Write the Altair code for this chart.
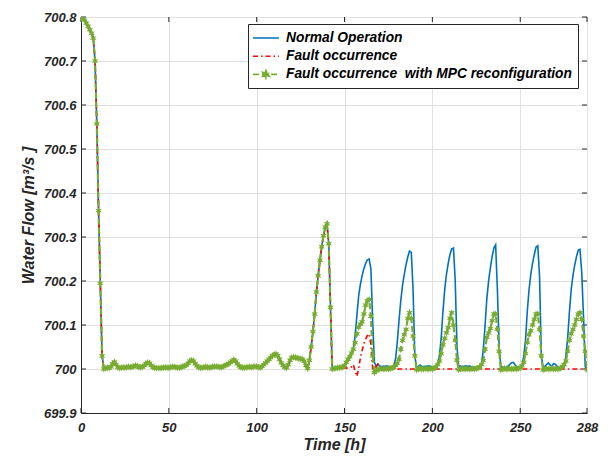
import math
import altair as alt
import pandas as pd

hours = list(range(289))
names = ["Normal Operation", "Fault occurrence", "Fault occurrence  with MPC reconfiguration"]
colors = ["#0072BD", "#FF0000", "#77AC30"]
x_ticks = [0, 50, 100, 150, 200, 250, 288]
y_ticks = [699.9, 700.0, 700.1, 700.2, 700.3, 700.4, 700.5, 700.6, 700.7, 700.8]

# hours 0..148: the three series coincide
common = [
    700.795, 700.800, 700.793, 700.786, 700.779, 700.771, 700.763, 700.752, 700.700, 700.557,
    700.360, 700.195, 700.030, 700.000, 700.002, 700.003, 700.002, 700.005, 700.012, 700.016,
    700.010, 700.004, 700.002, 700.003, 700.004, 700.003, 700.004, 700.005, 700.004, 700.005,
    700.006, 700.008, 700.007, 700.004, 700.004, 700.005, 700.008, 700.012, 700.015, 700.013,
    700.008, 700.004, 700.003, 700.002, 700.002, 700.002, 700.003, 700.003, 700.004, 700.003,
    700.003, 700.004, 700.005, 700.005, 700.004, 700.003, 700.003, 700.004, 700.006, 700.007,
    700.009, 700.013, 700.018, 700.020, 700.018, 700.012, 700.007, 700.004, 700.003, 700.003,
    700.004, 700.005, 700.004, 700.003, 700.004, 700.005, 700.006, 700.006, 700.005, 700.004,
    700.004, 700.006, 700.008, 700.010, 700.012, 700.015, 700.018, 700.021, 700.018, 700.012,
    700.007, 700.004, 700.003, 700.003, 700.004, 700.004, 700.005, 700.004, 700.005, 700.006,
    700.006, 700.004, 700.003, 700.006, 700.010, 700.014, 700.018, 700.022, 700.026, 700.030,
    700.033, 700.034, 700.030, 700.022, 700.014, 700.008, 700.004, 700.003, 700.010, 700.020,
    700.026, 700.027, 700.026, 700.025, 700.024, 700.023, 700.022, 700.018, 700.008, 700.001,
    700.020, 700.050, 700.085, 700.125, 700.175, 700.212, 700.247, 700.278, 700.303, 700.322,
    700.330, 700.285, 700.140, 700.000, 700.001, 700.002, 700.003, 700.003, 700.004,
]

# hours 149..288
normal_tail = [
    700.005, 700.008, 700.014, 700.020, 700.027, 700.035, 700.048, 700.075, 700.120, 700.165,
    700.192, 700.212, 700.228, 700.240, 700.248, 700.250, 700.228, 700.110, 700.015, 700.006,
    700.011, 700.007, 700.005, 700.006, 700.006, 700.007, 700.006, 700.005, 700.005, 700.008,
    700.022, 700.060, 700.110, 700.155, 700.190, 700.215, 700.237, 700.255, 700.268, 700.265,
    700.180, 700.030, 700.004, 700.006, 700.009, 700.006, 700.005, 700.006, 700.006, 700.007,
    700.006, 700.005, 700.004, 700.005, 700.010, 700.030, 700.070, 700.130, 700.180, 700.215,
    700.240, 700.260, 700.273, 700.275, 700.200, 700.050, 700.004, 700.007, 700.005, 700.006,
    700.007, 700.006, 700.007, 700.005, 700.004, 700.004, 700.004, 700.004, 700.006, 700.012,
    700.045, 700.100, 700.160, 700.200, 700.230, 700.255, 700.275, 700.282, 700.180, 700.050,
    700.003, 700.005, 700.003, 700.004, 700.006, 700.010, 700.014, 700.015, 700.010, 700.005,
    700.003, 700.003, 700.005, 700.030, 700.065, 700.130, 700.180, 700.215, 700.240, 700.260,
    700.277, 700.280, 700.210, 700.030, 700.003, 700.006, 700.010, 700.014, 700.009, 700.007,
    700.012, 700.011, 700.006, 700.004, 700.003, 700.004, 700.006, 700.030, 700.070, 700.130,
    700.180, 700.212, 700.236, 700.255, 700.270, 700.272, 700.220, 700.120, 700.005, 700.000,
]

fault_tail = [
    700.003, 700.002, 700.002, 700.003, 700.003, 700.005, 700.010, 699.995, 699.983, 700.000,
    700.025, 700.042, 700.058, 700.068, 700.076, 700.080, 700.055, 700.000, 699.993, 700.005,
    700.011, 700.008, 700.005, 700.004, 700.003, 700.002, 700.000, 700.000, 700.000, 700.000,
    700.000, 700.000, 700.000, 700.000, 700.000, 700.000, 700.000, 700.000, 700.000, 700.000,
    700.000, 700.000, 700.000, 700.000, 700.000, 700.000, 700.000, 700.000, 700.000, 700.000,
    700.000, 700.000, 700.000, 700.000, 700.000, 700.000, 700.000, 700.000, 700.000, 700.000,
    700.000, 700.000, 700.000, 700.000, 700.000, 700.000, 700.000, 700.000, 700.000, 700.000,
    700.000, 700.000, 700.000, 700.000, 700.000, 700.000, 700.000, 700.000, 700.000, 700.000,
    700.000, 700.000, 700.000, 700.000, 700.000, 700.000, 700.000, 700.000, 700.000, 700.000,
    700.000, 700.000, 700.000, 700.000, 700.000, 700.000, 700.000, 700.000, 700.000, 700.000,
    700.000, 700.000, 700.000, 700.000, 700.000, 700.000, 700.000, 700.000, 700.000, 700.000,
    700.000, 700.000, 700.000, 700.000, 700.000, 700.000, 700.000, 700.000, 700.000, 700.000,
    700.000, 700.000, 700.000, 700.000, 700.000, 700.000, 700.000, 700.000, 700.000, 700.000,
    700.000, 700.000, 700.000, 700.000, 700.000, 700.000, 700.000, 700.000, 700.000, 700.000,
]

mpc_tail = [
    700.004, 700.008, 700.015, 700.022, 700.028, 700.036, 700.045, 700.060, 700.080, 700.095,
    700.102, 700.107, 700.125, 700.145, 700.155, 700.158, 700.120, 700.030, 699.992, 699.996,
    699.999, 700.000, 700.001, 700.000, 700.000, 700.001, 700.000, 700.001, 700.002, 700.004,
    700.008, 700.013, 700.022, 700.045, 700.065, 700.078, 700.090, 700.115, 700.128, 700.115,
    700.075, 700.030, 699.998, 700.000, 700.001, 700.000, 700.000, 700.001, 700.000, 700.000,
    700.001, 700.000, 700.002, 700.004, 700.010, 700.018, 700.035, 700.055, 700.070, 700.082,
    700.094, 700.115, 700.128, 700.100, 700.065, 700.020, 699.998, 700.000, 700.001, 700.000,
    700.000, 700.001, 700.000, 700.000, 700.001, 700.000, 700.001, 700.002, 700.005, 700.010,
    700.019, 700.045, 700.072, 700.082, 700.092, 700.110, 700.125, 700.125, 700.090, 700.040,
    699.998, 700.000, 700.001, 700.000, 700.000, 700.001, 700.000, 700.000, 700.001, 700.000,
    700.001, 700.003, 700.007, 700.015, 700.035, 700.060, 700.078, 700.087, 700.100, 700.113,
    700.125, 700.125, 700.090, 700.030, 699.998, 700.000, 700.001, 700.000, 700.000, 700.001,
    700.000, 700.000, 700.001, 700.000, 700.002, 700.006, 700.010, 700.018, 700.040, 700.065,
    700.080, 700.090, 700.100, 700.113, 700.125, 700.128, 700.113, 700.075, 700.040, 699.998,
]

normal = common + normal_tail
fault = common + fault_tail
mpc = common + mpc_tail

df_n = pd.DataFrame({"Time": hours, "Flow": normal, "Series": names[0]})
df_f = pd.DataFrame({"Time": hours, "Flow": fault, "Series": names[1]})
df_m = pd.DataFrame({"Time": hours, "Flow": mpc, "Series": names[2]})


def star_path(r_out, r_in):
    pts = []
    for i in range(12):
        r = r_out if i % 2 == 0 else r_in
        a = math.pi / 2 + i * math.pi / 6
        pts.append(f"{r * math.cos(a):.3f},{-r * math.sin(a):.3f}")
    return "M" + "L".join(pts) + "Z"


W, H = 506, 396
FONT = "Liberation Sans"
INK = "#262626"

line_sym = "M-1.85,0L1.85,0"
green_sym = line_sym + star_path(0.55, 0.25)
is_green = f"datum.value === '{names[2]}'"

legend = alt.Legend(
    title=None, orient="none", legendX=167, legendY=7,
    fillColor="white", strokeColor=INK, padding=6, rowPadding=3.2,
    symbolSize=196, symbolOffset=4, labelOffset=12, symbolStrokeWidth=1.6,
    symbolType={"expr": f"{is_green} ? '{green_sym}' : '{line_sym}'"},
    symbolFillColor={"expr": f"{is_green} ? '{colors[2]}' : 'transparent'"},
    labelExpr="replace(datum.label, '  ', ' \u00a0')",
    labelFont=FONT, labelFontSize=13.8, labelFontWeight="bold", labelFontStyle="italic",
    labelColor="black", labelLimit=500,
)

xs = alt.Scale(domain=[0, 288], nice=False, zero=False)
ys = alt.Scale(domain=[699.9, 700.8], nice=False, zero=False)
x_axis = alt.Axis(values=x_ticks, format="d", title="Time [h]", labelFlush=False,
                  tickSize=0, labelPadding=8, titlePadding=2, grid=True)
y_axis = alt.Axis(values=y_ticks, title="Water Flow [m³/s ]", labelFlush=False,
                  labelExpr="abs(datum.value - 700) < 1e-6 ? '700' : format(datum.value, '.1f')",
                  tickSize=0, labelPadding=5, titlePadding=7, grid=True)

color_enc = alt.Color("Series:N", scale=alt.Scale(domain=names, range=colors), legend=legend)
dash_enc = alt.StrokeDash("Series:N", scale=alt.Scale(domain=names, range=[[1, 0], [5, 3, 1.5, 3], [6, 3]]),
                          legend=legend)


def X(f):
    return alt.X(f"{f}:Q", scale=xs, axis=x_axis)


def Y(f):
    return alt.Y(f"{f}:Q", scale=ys, axis=y_axis)


xt = pd.DataFrame({"v": x_ticks})
yt = pd.DataFrame({"v": y_ticks})

tick_bottom = alt.Chart(xt).mark_rule(color=INK, strokeWidth=1).encode(x=X("v"), y=alt.value(H), y2=alt.value(H - 5))
tick_top = alt.Chart(xt).mark_rule(color=INK, strokeWidth=1).encode(x=X("v"), y=alt.value(0), y2=alt.value(5))
tick_left = alt.Chart(yt).mark_rule(color=INK, strokeWidth=1).encode(y=Y("v"), x=alt.value(0), x2=alt.value(5))
tick_right = alt.Chart(yt).mark_rule(color=INK, strokeWidth=1).encode(y=Y("v"), x=alt.value(W), x2=alt.value(W - 5))

blue = alt.Chart(df_n).mark_line(strokeWidth=1.6, clip=True).encode(
    x=X("Time"), y=Y("Flow"), color=color_enc, strokeDash=dash_enc)
red = alt.Chart(df_f).mark_line(strokeWidth=1.6, clip=True).encode(
    x=X("Time"), y=Y("Flow"), color=color_enc, strokeDash=dash_enc)
green = alt.Chart(df_m).mark_line(strokeWidth=2.2, clip=True).encode(
    x=X("Time"), y=Y("Flow"), color=color_enc, strokeDash=dash_enc)
green_pts = alt.Chart(df_m).mark_point(shape=star_path(1, 0.45), filled=True, size=55, opacity=1, clip=True).encode(
    x=X("Time"), y=Y("Flow"), color=color_enc)

chart = alt.layer(
    tick_bottom, tick_top, tick_left, tick_right, blue, red, green, green_pts
).properties(
    width=W, height=H,
    padding={"left": 73, "top": 9, "right": 20, "bottom": 40},
    autosize=alt.AutoSizeParams(type="none"),
).configure(
    background="white"
).configure_view(
    stroke=INK, strokeWidth=1
).configure_axis(
    labelFont=FONT, labelFontSize=13, labelFontWeight="bold", labelFontStyle="italic", labelColor=INK,
    titleFont=FONT, titleFontSize=16, titleFontWeight="bold", titleFontStyle="italic", titleColor=INK,
    domainColor=INK, domainWidth=1, gridColor="#e2e2e2", gridWidth=1,
)

chart.save("out.html", embed_options={"renderer": "svg", "actions": False})
